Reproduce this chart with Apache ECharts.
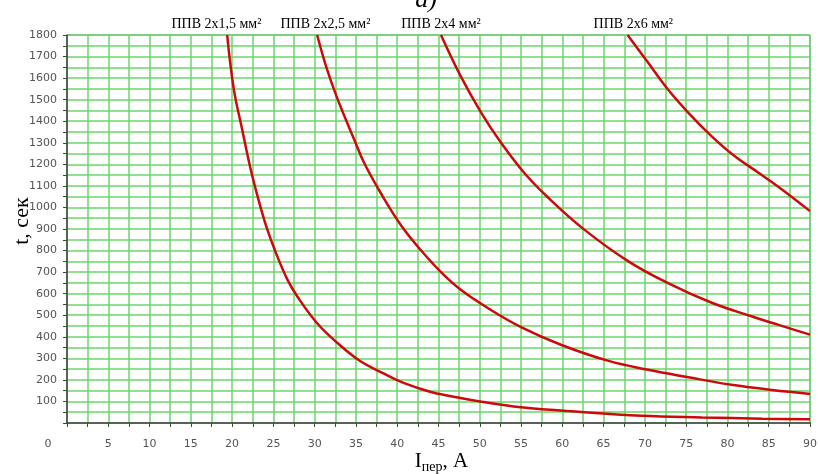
<!DOCTYPE html>
<html><head><meta charset="utf-8">
<script src="https://cdn.jsdelivr.net/npm/echarts@6/dist/echarts.min.js"></script>
<style>html,body{margin:0;padding:0;background:#fff}#c{width:820px;height:474px}</style>
</head><body><div id="c"></div>
<script>
// Series names (cable cross-sections)
const seriesNames = ['ППВ 2х1,5 мм²', 'ППВ 2х2,5 мм²', 'ППВ 2х4 мм²', 'ППВ 2х6 мм²'];
// Current I (A) and time t (s) pairs for each curve
const curve1 = [[19.4,1800],[20.2,1550],[21.2,1365],[22.2,1185],[23.2,1035],[24.2,905],[25.3,790],[26.7,665],[27.9,587],[30.3,463],[32.8,370],[35.6,285],[38.2,233],[40.4,192],[42.9,158],[45.3,133],[50.2,99],[55,73],[62.3,51],[69.6,34],[76.9,26],[84.2,20],[90,17]];
const curve2 = [[30.3,1800],[31.5,1640],[32.8,1500],[34.8,1314],[36.0,1206],[38.0,1067],[40.5,915],[42.9,800],[45.3,700],[47.7,618],[51.2,528],[55,445],[59.9,362],[65.6,288],[70.4,247],[75.3,212],[80.5,177],[85.4,153],[90,135]];
const curve3 = [[45.3,1800],[47.7,1608],[50.2,1438],[52.6,1299],[55.4,1160],[58.3,1045],[62.7,896],[68,750],[72.8,649],[78.1,558],[83,494],[86.2,455],[90,410]];
const curve4 = [[67.9,1800],[70.4,1671],[72.8,1547],[75.3,1438],[78.1,1330],[80.9,1237],[83.8,1160],[86.2,1095],[90,983]];
const curves = [curve1, curve2, curve3, curve4];
// Axis settings
const xMin = 0, xMax = 90, xStep = 2.5, xLabelStep = 5;
const yMin = 0, yMax = 1800, yStep = 50, yLabelStep = 100;
// Label positions along x (in A) for the series names above the plot
const nameAt = [18.1, 31.3, 45.3, 68.6];

const chart = echarts.init(document.getElementById('c'), null, {renderer: 'canvas'});
const green = '#6ad66a';
const tickFont = {fontFamily: 'DejaVu Sans', fontSize: 11, color: '#555'};

chart.setOption({
  animation: false,
  grid: {left: 67, right: 10, top: 35, bottom: 51, show: true, borderColor: '#777', borderWidth: 1,
         containLabel: false, outerBoundsMode: 'none'},
  xAxis: {
    type: 'value', min: xMin, max: xMax, interval: xStep,
    name: '{a|I}{s|пер}{a|, А}', nameLocation: 'middle', nameGap: 25, nameMoveOverlap: false,
    nameTextStyle: {padding: [0, 0, 0, 6], rich: {
      a: {fontFamily: 'Liberation Serif', fontSize: 21, color: '#000'},
      s: {fontFamily: 'Liberation Serif', fontSize: 14, color: '#000', padding: [12, 0, 0, 0]}
    }},
    axisLine: {lineStyle: {color: '#444', width: 1.5}},
    axisTick: {show: true, length: 4, lineStyle: {color: '#444'}},
    splitLine: {show: true, lineStyle: {color: green, width: 1.5}},
    axisLabel: Object.assign({margin: 16,
      formatter: v => {
        if (Math.abs(v % xLabelStep) > 1e-6) return '';
        if (v === 0) return '{z|0}';
        return String(v);
      },
      rich: {z: Object.assign({padding: [0, 38, 0, 0]}, tickFont)}
    }, tickFont)
  },
  yAxis: {
    type: 'value', min: yMin, max: yMax, interval: yStep,
    name: 't, сек', nameLocation: 'middle', nameGap: 34, nameRotate: 90, nameMoveOverlap: false,
    nameTextStyle: {fontFamily: 'Liberation Serif', fontSize: 22, color: '#000', padding: [0, 0, 0, 16]},
    axisLine: {show: true, lineStyle: {color: '#444', width: 1.5}},
    axisTick: {show: true, length: 4, lineStyle: {color: '#444'}},
    splitLine: {show: true, lineStyle: {color: green, width: 1.5}},
    axisLabel: Object.assign({margin: 10,
      formatter: v => (v > 0 && v % yLabelStep === 0) ? String(v) : ''
    }, tickFont)
  },
  series: curves.map((d, i) => ({
    name: seriesNames[i], type: 'line', data: d, smooth: 0.4, showSymbol: false,
    lineStyle: {color: '#cc0a0a', width: 2.5}, clip: true, z: 5
  }))
});

const g = [];
nameAt.forEach((x, i) => {
  const p = chart.convertToPixel({gridIndex: 0}, [x, yMax]);
  g.push({type: 'text', x: p[0], y: 24, style: {text: seriesNames[i], font: '14px "Liberation Serif"', fill: '#000', textAlign: 'center', textVerticalAlign: 'middle'}});
});
g.push({type: 'text', x: 426, y: -13, style: {text: 'а)', font: 'italic 26px "Liberation Serif"', fill: '#000', textAlign: 'center', textVerticalAlign: 'top'}});
chart.setOption({graphic: g});
</script></body></html>
